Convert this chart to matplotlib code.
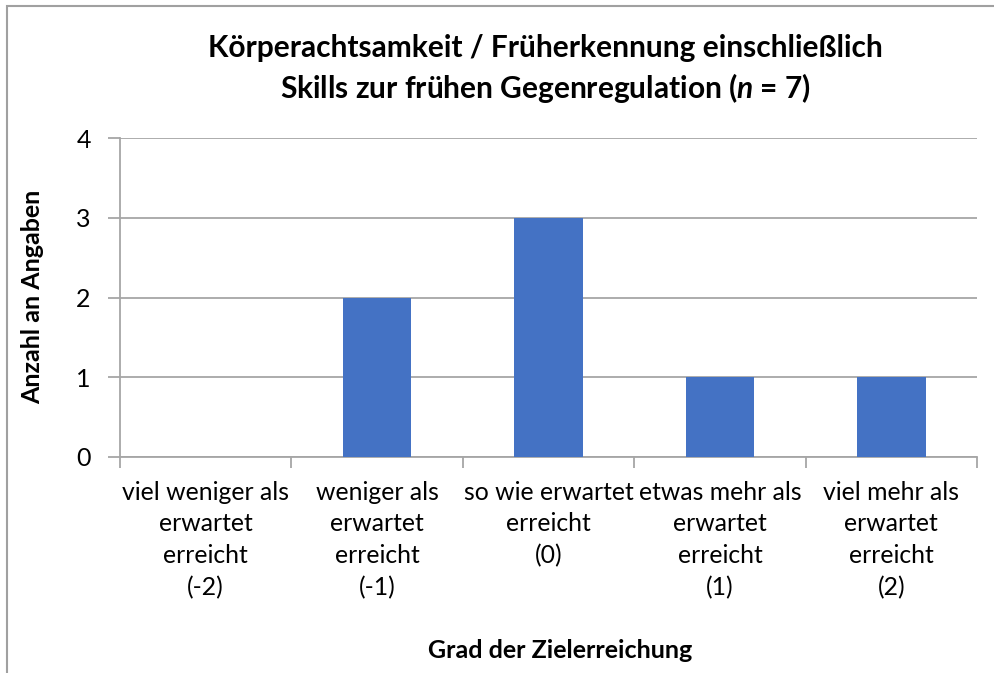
import matplotlib
matplotlib.use("Agg")
import matplotlib.pyplot as plt
from matplotlib.patches import Rectangle

categories = ["viel weniger als\nerwartet\nerreicht\n(-2)",
              "weniger als\nerwartet\nerreicht\n(-1)",
              "so wie erwartet\nerreicht\n(0)",
              "etwas mehr als\nerwartet\nerreicht\n(1)",
              "viel mehr als\nerwartet\nerreicht\n(2)"]
values = [0, 2, 3, 1, 1]
yticks = [0, 1, 2, 3, 4]

plt.rcParams['font.family'] = ['Lato', 'DejaVu Sans']
plt.rcParams['mathtext.fontset'] = 'custom'
plt.rcParams['mathtext.it'] = 'Lato:italic:bold'
plt.rcParams['mathtext.rm'] = 'Lato:bold'
W, H = 995, 673
fig = plt.figure(figsize=(W/100, H/100), dpi=100)

def fx(px): return px / W
def fy(py): return 1 - py / H

ax = fig.add_axes([fx(120), fy(457), fx(977) - fx(120), fy(138) - fy(457)])
x = list(range(len(categories)))
ax.bar(x, values, width=0.4, color="#4472C4", zorder=3)
ax.set_xlim(-0.5, len(categories) - 0.5)
ax.set_ylim(0, 4)
ax.set_yticks(yticks)
ax.set_yticklabels([str(v) for v in yticks], fontsize=18)
ax.yaxis.grid(True, color="#A6A6A6", linewidth=1.3, zorder=0)
for s in ["top", "right"]:
    ax.spines[s].set_visible(False)
for s in ["left", "bottom"]:
    ax.spines[s].set_color("#A6A6A6")
    ax.spines[s].set_linewidth(1.3)
ax.tick_params(axis="y", length=9, width=1.3, color="#A6A6A6", pad=12)
ax.set_xticks([i - 0.5 for i in range(len(categories) + 1)])
ax.set_xticklabels([])
ax.tick_params(axis="x", length=8, width=1.3, color="#A6A6A6")
for i, c in enumerate(categories):
    ax.text(i, -0.3, c, ha="center", va="top", fontsize=17.8,
            linespacing=1.45, transform=ax.transData)

fig.text(fx(545), fy(48), "Körperachtsamkeit / Früherkennung einschließlich",
         ha="center", va="center", fontsize=21.5, fontweight="bold")
fig.text(fx(545), fy(88), "Skills zur frühen Gegenregulation ($\\it{n}$ = 7)",
         ha="center", va="center", fontsize=21.5, fontweight="bold")
fig.text(fx(560), fy(650), "Grad der Zielerreichung", ha="center", va="center",
         fontsize=18, fontweight="bold")
fig.text(fx(33), fy(297), "Anzahl an Angaben", ha="center", va="center",
         rotation=90, fontsize=18, fontweight="bold")

fig.patches.append(Rectangle((fx(7), fy(H + 10)), 1.2, fy(6) - fy(H + 10),
                             transform=fig.transFigure, fill=False,
                             edgecolor="#A0A0A0", linewidth=1.5))
fig.savefig("out.png", dpi=100, facecolor="white")
